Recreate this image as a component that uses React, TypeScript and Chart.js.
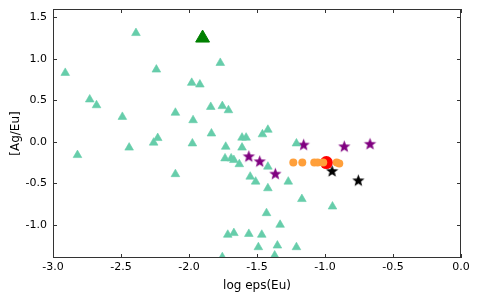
import React, { useEffect, useRef } from "react";
import { Chart, registerables } from "chart.js";

Chart.register(...registerables);

// Tick values
const xTicks = [-3.0, -2.5, -2.0, -1.5, -1.0, -0.5, 0.0];
const yTicks = [-1.0, -0.5, 0.0, 0.5, 1.0, 1.5];

// Comparison stars (triangles)
const triX = [-2.91, -2.39, -2.73, -2.68, -2.49, -2.24, -1.98, -1.92, -2.10, -1.97, -1.77, -1.84, -1.755, -1.71, -1.835, -1.61, -1.58, -1.46, -1.42, -2.82, -2.44, -2.26, -2.23, -1.975, -2.10, -1.73, -1.61, -1.735, -1.69, -1.67, -1.63, -1.42, -1.55, -1.51, -1.42, -1.27, -1.21, -1.17, -0.945, -1.43, -1.33, -1.715, -1.67, -1.56, -1.465, -1.49, -1.35, -1.21, -1.755, -1.37];
const triY = [0.83, 1.31, 0.51, 0.44, 0.30, 0.87, 0.71, 0.69, 0.35, 0.26, 0.95, 0.42, 0.43, 0.38, 0.10, 0.05, 0.05, 0.09, 0.145, -0.16, -0.07, -0.01, 0.045, -0.02, -0.39, -0.06, -0.07, -0.20, -0.20, -0.22, -0.27, -0.30, -0.42, -0.48, -0.56, -0.48, -0.02, -0.69, -0.78, -0.86, -1.00, -1.12, -1.10, -1.11, -1.12, -1.27, -1.25, -1.27, -1.39, -1.37];

// Big green triangle
const greenX = [-1.90];
const greenY = [1.25];

// Orange circles
const orangeX = [-1.233, -1.167, -1.079, -1.054, -1.013, -0.914, -0.895];
const orangeY = [-0.25, -0.25, -0.25, -0.25, -0.25, -0.25, -0.26];

// Red circle
const redX = [-0.99];
const redY = [-0.25];

// Purple stars
const purpleX = [-1.56, -1.48, -1.365, -1.157, -0.858, -0.669];
const purpleY = [-0.18, -0.24, -0.39, -0.04, -0.06, -0.03];

// Black stars
const blackX = [-0.948, -0.755];
const blackY = [-0.357, -0.47];

function pts(xs: number[], ys: number[]) {
  return xs.map((x, i) => ({ x, y: ys[i] }));
}

function makeStar(color: string, R: number): HTMLCanvasElement {
  const size = Math.ceil(R * 2 + 4);
  const c = document.createElement("canvas");
  c.width = size;
  c.height = size;
  const ctx = c.getContext("2d")!;
  const cx = size / 2;
  const cy = size / 2;
  const r = R * 0.42;
  ctx.beginPath();
  for (let i = 0; i < 10; i++) {
    const ang = -Math.PI / 2 + (i * Math.PI) / 5;
    const rad = i % 2 === 0 ? R : r;
    const px = cx + rad * Math.cos(ang);
    const py = cy + rad * Math.sin(ang);
    if (i === 0) ctx.moveTo(px, py);
    else ctx.lineTo(px, py);
  }
  ctx.closePath();
  ctx.fillStyle = color;
  ctx.fill();
  return c;
}

const framePlugin = {
  id: "frame",
  afterDatasetsDraw(chart: any) {
    const { ctx, chartArea } = chart;
    const { left, right, top, bottom } = chartArea;
    const xs = chart.scales.x;
    const ys = chart.scales.y;
    ctx.save();
    ctx.strokeStyle = "#333";
    ctx.lineWidth = 1;
    ctx.strokeRect(left + 0.5, top + 0.5, right - left - 1, bottom - top - 1);
    const tl = 4;
    ctx.beginPath();
    xTicks.forEach((v) => {
      const px = Math.round(xs.getPixelForValue(v)) + 0.5;
      ctx.moveTo(px, bottom);
      ctx.lineTo(px, bottom - tl);
      ctx.moveTo(px, top);
      ctx.lineTo(px, top + tl);
    });
    yTicks.forEach((v) => {
      const py = Math.round(ys.getPixelForValue(v)) + 0.5;
      ctx.moveTo(left, py);
      ctx.lineTo(left + tl, py);
      ctx.moveTo(right, py);
      ctx.lineTo(right - tl, py);
    });
    ctx.stroke();
    ctx.restore();
  },
};

export default function App() {
  const ref = useRef<HTMLCanvasElement>(null);
  useEffect(() => {
    if (!ref.current) return;
    const purpleStar = makeStar("#800080", 6.5);
    const blackStar = makeStar("#000000", 6.5);
    const font = { family: "'DejaVu Sans', sans-serif", size: 11 };
    const chart = new Chart(ref.current, {
      type: "scatter",
      data: {
        datasets: [
          {
            data: pts(triX, triY),
            pointStyle: "triangle",
            pointRadius: 5,
            backgroundColor: "#66CDAA",
            borderColor: "rgba(102,205,170,0.6)",
            borderWidth: 1,
            clip: 0,
          },
          {
            data: pts(greenX, greenY),
            pointStyle: "triangle",
            pointRadius: 8,
            backgroundColor: "#008000",
            borderColor: "#008000",
            borderWidth: 1,
            clip: 0,
          },
          {
            data: pts(orangeX, orangeY),
            pointStyle: "circle",
            pointRadius: 4,
            backgroundColor: "#FF9F3A",
            borderColor: "#FF9F3A",
            borderWidth: 0,
            clip: 0,
          },
          {
            data: pts(redX, redY),
            pointStyle: "circle",
            pointRadius: 6.5,
            backgroundColor: "#FF0000",
            borderColor: "#FF0000",
            borderWidth: 0,
            clip: 0,
          },
          {
            data: pts(purpleX, purpleY),
            pointStyle: purpleStar as any,
            pointRadius: 6,
            backgroundColor: "#800080",
            clip: 0,
          },
          {
            data: pts(blackX, blackY),
            pointStyle: blackStar as any,
            pointRadius: 6,
            backgroundColor: "#000000",
            clip: 0,
          },
        ],
      },
      options: {
        animation: false,
        responsive: false,
        devicePixelRatio: 1,
        layout: { padding: { left: 0, right: 19, top: 8, bottom: 0 } },
        plugins: {
          legend: { display: false },
          tooltip: { enabled: false },
        },
        scales: {
          x: {
            type: "linear",
            min: -3,
            max: 0,
            afterFit: (s: any) => {
              s.height = 42;
              s.paddingLeft = 0;
              s.paddingRight = 0;
            },
            afterBuildTicks: (s: any) => {
              s.ticks = xTicks.map((v) => ({ value: v }));
            },
            grid: { display: false, drawTicks: false },
            border: { display: false },
            ticks: {
              padding: 3,
              color: "#000",
              font,
              maxRotation: 0,
              callback: (v: any) => Number(v).toFixed(1),
            },
            title: {
              display: true,
              text: "log eps(Eu)",
              color: "#000",
              font: { family: "'DejaVu Sans', sans-serif", size: 12 },
              padding: { top: 0, bottom: 7 },
            },
          },
          y: {
            type: "linear",
            min: -1.4,
            max: 1.6,
            afterFit: (s: any) => {
              s.width = 53;
              s.paddingTop = 0;
              s.paddingBottom = 0;
            },
            afterBuildTicks: (s: any) => {
              s.ticks = yTicks.map((v) => ({ value: v }));
            },
            grid: { display: false, drawTicks: false },
            border: { display: false },
            ticks: {
              padding: 6,
              color: "#000",
              font,
              callback: (v: any) => Number(v).toFixed(1),
            },
            title: {
              display: true,
              text: "[Ag/Eu]",
              color: "#000",
              font: { family: "'DejaVu Sans', sans-serif", size: 12 },
              padding: { top: 9, bottom: 0 },
            },
          },
        },
      },
      plugins: [framePlugin],
    });
    return () => chart.destroy();
  }, []);
  return (
    <div style={{ position: "absolute", left: 0, top: 0, width: 480, height: 300, background: "#fff" }}>
      <canvas ref={ref} width={480} height={300} style={{ display: "block", width: 480, height: 300 }} />
    </div>
  );
}
